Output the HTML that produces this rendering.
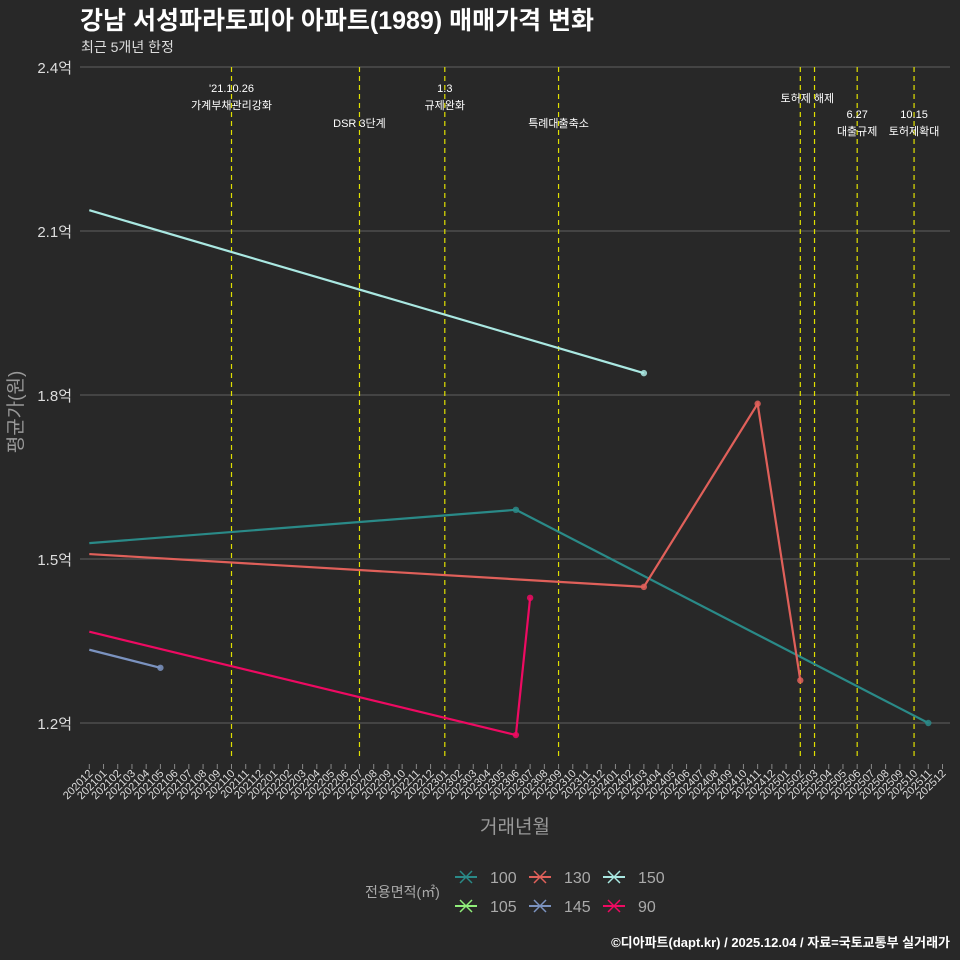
<!DOCTYPE html>
<html><head><meta charset="utf-8"><style>
html,body{margin:0;padding:0;background:#282828;overflow:hidden;width:960px;height:960px;}
svg{display:block;}
svg text{font-family:"Liberation Sans","Noto Sans CJK KR",sans-serif;}
</style></head><body>
<svg width="960" height="960" xmlns="http://www.w3.org/2000/svg">
<rect width="960" height="960" fill="#282828"/>
<text x="80" y="29" fill="#ffffff" font-size="25" font-weight="bold">강남 서성파라토피아 아파트(1989) 매매가격 변화</text>
<text x="81" y="52" fill="#dddddd" font-size="14">최근 5개년 한정</text>
<g id="grid"></g>
<g id="events"></g>
<g id="series"></g>
<g id="xaxis"></g>
<text x="515" y="833" fill="#999999" font-size="19" text-anchor="middle">거래년월</text>
<text transform="translate(22,412) rotate(-90)" fill="#999999" font-size="19" text-anchor="middle">평균가(원)</text>
<g id="legend">
<text x="365" y="897" fill="#aaaaaa" font-size="14">전용면적(㎡)</text>
</g>
<text x="950" y="947" fill="#ffffff" font-size="13" font-weight="bold" text-anchor="end">©디아파트(dapt.kr) / 2025.12.04 / 자료=국토교통부 실거래가</text>
</svg>
<script>
const yTicks=[1.2,1.5,1.8,2.1,2.4];
const yTickLabels=["1.2억","1.5억","1.8억","2.1억","2.4억"];
const eventMonths=[10,19,25,33,50,51,54,58];
const eventLabels=[["'21.10.26","가계부채관리강화"],["DSR 3단계"],["1.3","규제완화"],["특례대출축소"],["토허제 해제"],[],["6.27","대출규제"],["10.15","토허제확대"]];
const eventLabelRow=[0,1,0,1,0,0,0.6,0.6];
const seriesNames=["100","130","150","105","145","90"];
const seriesColors=["#2a8a88","#e0605a","#aae8e2","#90ee7a","#7b93c0","#ee0a62"];
const s100Months=[0,30,59];const s100Values=[1.529,1.590,1.200];
const s130Months=[0,39,47,50];const s130Values=[1.509,1.449,1.784,1.278];
const s150Months=[0,39];const s150Values=[2.138,1.840];
const s105Months=[];const s105Values=[];
const s145Months=[0,5];const s145Values=[1.334,1.301];
const s90Months=[0,30,31];const s90Values=[1.367,1.178,1.429];
const seriesMonths=[s100Months,s130Months,s150Months,s105Months,s145Months,s90Months];
const seriesValues=[s100Values,s130Values,s150Values,s105Values,s145Values,s90Values];

const NS="http://www.w3.org/2000/svg";
const X=m=>89.3+m*14.22;
const Y=v=>67+(2.4-v)*164/0.3;
function mk(t,a,p){const e=document.createElementNS(NS,t);for(const k in a)e.setAttribute(k,a[k]);p.appendChild(e);return e;}
const grid=document.getElementById('grid');
yTicks.forEach((v,i)=>{
 const l=mk('line',{x1:80,x2:950,y1:Y(v),y2:Y(v),stroke:'#555','stroke-width':1.2},grid);
 
 
 const t=mk('text',{x:72,y:Y(v)+6,fill:'#dddddd','font-size':15,'text-anchor':'end'},grid);
 t.textContent=yTickLabels[i];
 
 
});
const ev=document.getElementById('events');
eventMonths.forEach((m,i)=>{
 const l=mk('line',{x1:X(m),x2:X(m),y1:67,y2:760,stroke:'#e0e000','stroke-width':1.2,'stroke-dasharray':'5,4'},ev);
 
 
 const lab=eventLabels[i];
 lab.forEach((s,j)=>{
  let yy;
  if(eventLabelRow[i]==0.6) yy=118+j*17;
  else if(lab.length==2) yy=92+j*17;
  else if(eventLabelRow[i]>=1) yy=127;
  else yy=102;
  const t=mk('text',{x:X(m)+(i==4?7:0),y:yy,fill:'#ffffff','font-size':11,'text-anchor':'middle'},ev);
  t.textContent=s;
  
  
 });
});
const xa=document.getElementById('xaxis');
for(let m=0;m<=60;m++){
 const yr=2020+Math.floor((m+11)/12), mo=((m+11)%12)+1;
 const lab=yr+String(mo).padStart(2,'0');
 const tk=mk('line',{x1:X(m),x2:X(m),y1:764,y2:769,stroke:'#888'},xa);
 
 
 const t=mk('text',{x:X(m)+4,y:774,fill:'#dddddd','font-size':11,'text-anchor':'end',transform:`rotate(-45 ${X(m)+4} 774)`},xa);
 t.textContent=lab;
 
 
}
const sg=document.getElementById('series');
seriesNames.forEach((n,i)=>{
 const ms=seriesMonths[i],vs=seriesValues[i];
 if(!ms.length)return;
 const pl=mk('polyline',{points:ms.map((m,k)=>X(m)+','+Y(vs[k])).join(' '),fill:'none',stroke:seriesColors[i],'stroke-width':2.2},sg);
 
 
 ms.forEach((m,k)=>{if(k==0)return;
  const c=mk('circle',{cx:X(m),cy:Y(vs[k]),r:3.2,fill:seriesColors[i],opacity:0.85},sg);
  
  
 });
});
const lg=document.getElementById('legend');
seriesNames.forEach((n,i)=>{
 const col=i%3,row=Math.floor(i/3);
 const x=455+col*74,y=877+row*29;
 const g=mk('g',{},lg);
 
 
 mk('line',{x1:x,x2:x+22,y1:y,y2:y,stroke:seriesColors[i],'stroke-width':2},g);
 mk('line',{x1:x+5,x2:x+17,y1:y-6,y2:y+6,stroke:seriesColors[i],'stroke-width':1.5},g);
 mk('line',{x1:x+5,x2:x+17,y1:y+6,y2:y-6,stroke:seriesColors[i],'stroke-width':1.5},g);
 const t=mk('text',{x:x+35,y:y+6,fill:'#aaaaaa','font-size':16},g);
 t.textContent=n;
});
</script>
</body></html>
